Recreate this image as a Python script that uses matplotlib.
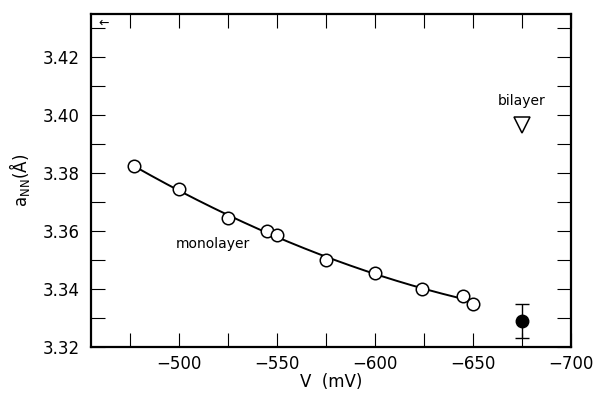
import numpy as np
import matplotlib
matplotlib.use("Agg")
import matplotlib.pyplot as plt
from matplotlib.ticker import MultipleLocator, FixedLocator

# monolayer data
mono_v = [-477, -500, -525, -545, -550, -575, -600, -624, -645, -650]
mono_a = [3.3824, 3.3744, 3.3645, 3.3600, 3.3587, 3.3501, 3.3456, 3.3402, 3.3375, 3.3350]
# bilayer
bi_v = [-675]
bi_a = [3.3968]
# filled point with error bar
fill_v = [-675]
fill_a = [3.3290]
fill_err = [0.0058]

x_ticks = [-500, -550, -600, -650, -700]
y_ticks = [3.32, 3.34, 3.36, 3.38, 3.40, 3.42]

plt.rcParams['font.family'] = ['DejaVu Sans']
fig = plt.figure(figsize=(5.95, 3.95), dpi=100)
ax = fig.add_axes([91/595, 1-347/395, (571-91)/595, (347-14)/395])

# smooth fit curve through monolayer
coef = np.polyfit(mono_v, mono_a, 2)
vv = np.linspace(min(mono_v), max(mono_v), 200)
ax.plot(vv, np.polyval(coef, vv), color='black', lw=1.4, zorder=2)
ax.plot(mono_v, mono_a, 'o', ms=9, mfc='white', mec='black', mew=1.1, zorder=3)
ax.plot(bi_v, bi_a, 'v', ms=11, mfc='white', mec='black', mew=1.1, zorder=3)
ax.errorbar(fill_v, fill_a, yerr=fill_err, fmt='o', ms=9, color='black',
            ecolor='black', elinewidth=1.0, capsize=5, capthick=1.0, zorder=3)

ax.set_xlim(-455, -700)
ax.set_ylim(3.32, 3.435)
ax.xaxis.set_major_locator(FixedLocator(x_ticks))
ax.xaxis.set_minor_locator(MultipleLocator(25))
ax.yaxis.set_major_locator(FixedLocator(y_ticks))
ax.yaxis.set_minor_locator(MultipleLocator(0.01))
ax.set_xticklabels(['\u2212' + str(abs(t)) for t in x_ticks])
ax.set_yticklabels(['%.2f' % t for t in y_ticks])
ax.tick_params(which='both', direction='in', top=True, right=True,
               length=10, width=0.8, labelsize=12)
ax.tick_params(axis='x', pad=6)
ax.tick_params(axis='y', pad=8)
for s in ax.spines.values():
    s.set_linewidth(1.6)

ax.set_xlabel('V  (mV)', fontsize=12, labelpad=0)
ax.set_ylabel(r'a$_{\mathrm{NN}}$(Å)', fontsize=12, labelpad=8)

ax.text(-517, 3.3555, 'monolayer', fontsize=10, ha='center', va='center')
ax.text(-675, 3.4048, 'bilayer', fontsize=10, ha='center', va='center')
ax.text(-459, 3.4318, '\u2190', fontsize=9, ha='left', va='center')

fig.savefig('out.png', dpi=100)
